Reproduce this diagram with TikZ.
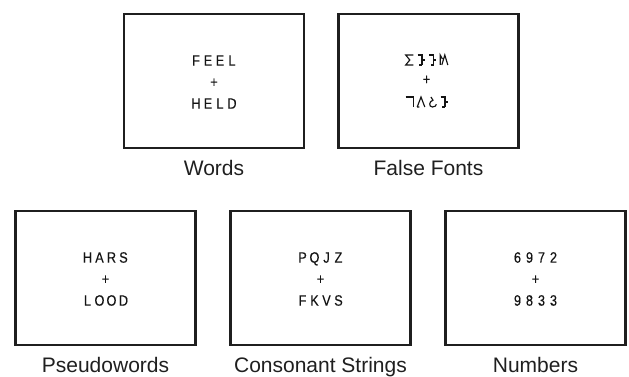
\documentclass[tikz,border=0pt]{standalone}
\usepackage{fontspec}
\setmainfont{Liberation Sans}
\newfontfamily\stimfont[FakeBold=0.4,FakeStretch=0.85]{Liberation Sans}
% each stimulus character sits in a fixed-width cell
\newcommand\stimch[1]{\makebox[12pt][c]{#1}}
\def\stimword#1{\stimwordA#1\relax}
\def\stimwordA#1{\ifx#1\relax\else\stimch{#1}\expandafter\stimwordA\fi}
\tikzset{
  stimbox/.style={draw=black!88, line width=2.6pt, fill=white,
    minimum width=180pt, minimum height=134pt, inner sep=0pt},
  stimtext/.style={align=center, text=black!92, inner sep=0pt,
    font=\stimfont\fontsize{15}{21.5}\selectfont},
  caption/.style={anchor=base, text=black!88, inner sep=0pt,
    font=\fontsize{21}{25}\selectfont},
  glyph/.style={line width=1.15pt, draw=black!92, line cap=butt, line join=miter}
}
\begin{document}
\begin{tikzpicture}[x=1pt,y=-1pt]
\useasboundingbox (0,0) rectangle (629,377);

% stimulus frames
\node[stimbox] (words)  at (214,81)    {};
\node[stimbox] (false)  at (428.5,81)  {};
\node[stimbox] (pseudo) at (105.5,278) {};
\node[stimbox] (cons)   at (320.5,278) {};
\node[stimbox] (num)    at (535.5,278) {};

% stimulus text
\node[stimtext] (words-t)  at ([yshift=-1pt]words.center)  {\stimword{FEEL}\\+\\\stimword{HELD}};
\node[stimtext] (pseudo-t) at ([yshift=-1pt]pseudo.center) {\stimword{HARS}\\+\\\stimword{LOOD}};
\node[stimtext] (cons-t)   at ([yshift=-1pt]cons.center)   {\stimword{PQJZ}\\+\\\stimword{FKVS}};
\node[stimtext] (num-t)    at ([yshift=-1pt]num.center)    {\stimword{6972}\\+\\\stimword{9833}};

% false-font characters
\node[stimtext] (false-t) at ([xshift=-2pt,yshift=1pt]false.center) {+};
\begin{scope}[shift={([xshift=-2pt]false.center)}]
  % first row
  \begin{scope}[shift={(-17,-21)}]
    \draw[glyph] (3.8,-5) -- (-3.8,-5) -- (0.3,0) -- (-3.8,5) -- (3.8,5);
  \end{scope}
  \begin{scope}[shift={(-5.5,-21)}]
    \draw[glyph] (-3.3,-5) -- (1,-5) -- (1,5) (1,0) -- (3.8,0) (-1.6,5) -- (1,5);
  \end{scope}
  \begin{scope}[shift={(6,-21)}]
    \draw[glyph] (-3.3,-5) -- (1,-5) -- (1,5) (1,0) -- (3.8,0) (-1.6,5) -- (1,5);
  \end{scope}
  \begin{scope}[shift={(17.5,-21)}]
    \draw[glyph] (-3.8,5) -- (-3.8,-5) -- (-1.6,-1) (-2.2,5) -- (0.8,-5) -- (3.8,5);
  \end{scope}
  % second row
  \begin{scope}[shift={(-17,21)}]
    \draw[glyph] (-3.8,-5) -- (3.8,-5) -- (3.8,5);
  \end{scope}
  \begin{scope}[shift={(-5.5,21)}]
    \draw[glyph] (-3.8,5) -- (0,-5) -- (3.8,5) (-3.8,5) -- (-1.6,5);
  \end{scope}
  \begin{scope}[shift={(6,21)}]
    \draw[glyph] (-1.6,-5) -- (0.5,-1.8)
      .. controls (-3.8,-0.6) and (-3.8,5) .. (0,5)
      .. controls (2.7,5) and (3.8,3.5) .. (3.8,2.2);
  \end{scope}
  \begin{scope}[shift={(17.5,21)}]
    \draw[glyph] (-3.3,-5) -- (1,-5) -- (1,5) (1,0) -- (3.8,0) (-1.6,5) -- (1,5);
  \end{scope}
\end{scope}

% captions
\node[caption] (words-l)  at (214,175.5)   {Words};
\node[caption] (false-l)  at (428.5,175.5) {False Fonts};
\node[caption] (pseudo-l) at (105.5,372.5) {Pseudowords};
\node[caption] (cons-l)   at (320.5,372.5) {Consonant Strings};
\node[caption] (num-l)    at (535.5,372.5) {Numbers};
\end{tikzpicture}
\end{document}
